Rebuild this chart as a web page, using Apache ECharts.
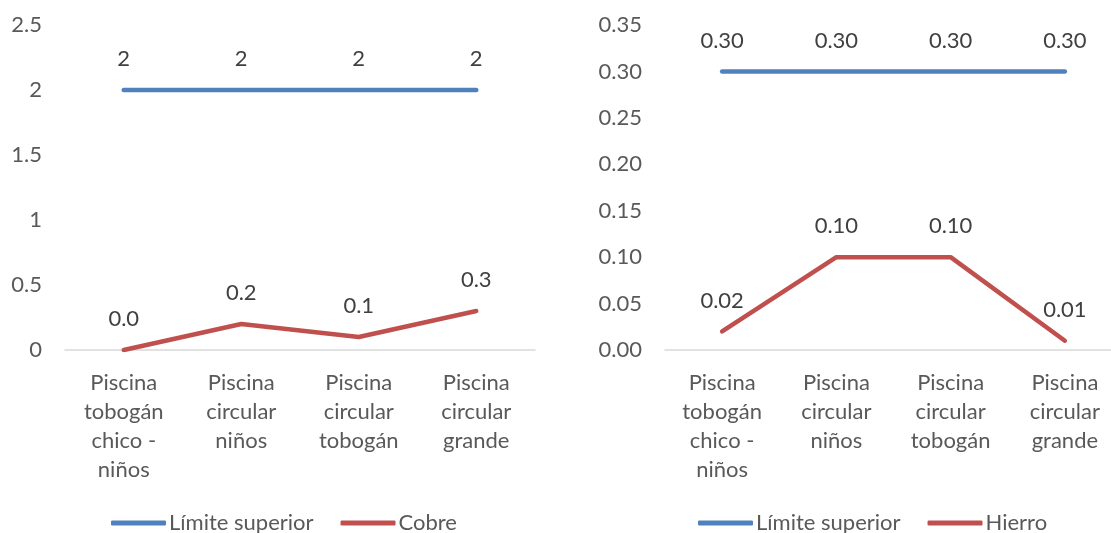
<!DOCTYPE html>
<html><head><meta charset="utf-8">
<script src="https://cdn.jsdelivr.net/npm/echarts@6/dist/echarts.min.js"></script>
<style>html,body{margin:0;padding:0;background:#fff}#c{width:1111px;height:533px}</style>
</head><body><div id="c"></div>
<script>
var categories = ['Piscina\ntobogán\nchico -\nniños', 'Piscina\ncircular\nniños', 'Piscina\ncircular\ntobogán', 'Piscina\ncircular\ngrande'];
var limiteCobre = [2, 2, 2, 2];
var cobre = [0.0, 0.2, 0.1, 0.3];
var limiteHierro = [0.30, 0.30, 0.30, 0.30];
var hierro = [0.02, 0.10, 0.10, 0.01];

var FONT = 'Lato';
var FS = 22;
var BLUE = '#4F81BD', RED = '#C0504D';
var chart = echarts.init(document.getElementById('c'));

function xAxis(i) {
  return {
    type: 'category', gridIndex: i, data: categories, boundaryGap: true,
    axisLine: {lineStyle: {color: '#d9d9d9', width: 1.5}},
    axisTick: {show: false},
    axisLabel: {color: '#595959', fontFamily: FONT, fontSize: FS, lineHeight: 29, margin: 18, interval: 0}
  };
}
function yAxis(i, max, interval, dec) {
  return {
    type: 'value', gridIndex: i, min: 0, max: max, interval: interval,
    splitLine: {show: false}, axisLine: {show: false}, axisTick: {show: false},
    axisLabel: {color: '#595959', fontFamily: FONT, fontSize: FS, margin: 23,
      formatter: function (v) { return dec === null ? String(+v.toFixed(2)) : v.toFixed(dec); }}
  };
}
function line(name, data, color, i, dec) {
  return {
    name: name, type: 'line', xAxisIndex: i, yAxisIndex: i, data: data,
    symbol: 'circle', symbolSize: 0, showSymbol: true,
    lineStyle: {color: color, width: 4.5, cap: 'round', join: 'round'},
    itemStyle: {color: color},
    label: {show: true, position: 'top', distance: 20, color: '#404040', fontFamily: FONT, fontSize: FS,
      formatter: function (p) { return dec === 0 ? String(Math.round(p.value)) : p.value.toFixed(dec); }},
    emphasis: {disabled: true}
  };
}
var legendCommon = {
  bottom: -6, itemWidth: 55, itemHeight: 5, itemGap: 27, icon: 'roundRect',
  textStyle: {color: '#595959', fontFamily: FONT, fontSize: FS, padding: [0, 0, 0, -2]}
};
chart.setOption({
  animation: false,
  grid: [
    {left: 65, width: 470, top: 25, height: 325, outerBoundsMode: 'none', containLabel: false},
    {left: 665, width: 457, top: 25, height: 325, outerBoundsMode: 'none', containLabel: false}
  ],
  xAxis: [xAxis(0), xAxis(1)],
  yAxis: [yAxis(0, 2.5, 0.5, null), yAxis(1, 0.35, 0.05, 2)],
  legend: [
    Object.assign({}, legendCommon, {left: 106, data: ['Límite superior', 'Cobre']}),
    Object.assign({}, legendCommon, {left: 693, data: ['Límite superior', 'Hierro']})
  ],
  series: [
    line('Límite superior', limiteCobre, BLUE, 0, 0),
    line('Cobre', cobre, RED, 0, 1),
    line('Límite superior', limiteHierro, BLUE, 1, 2),
    line('Hierro', hierro, RED, 1, 2)
  ]
});
</script></body></html>
